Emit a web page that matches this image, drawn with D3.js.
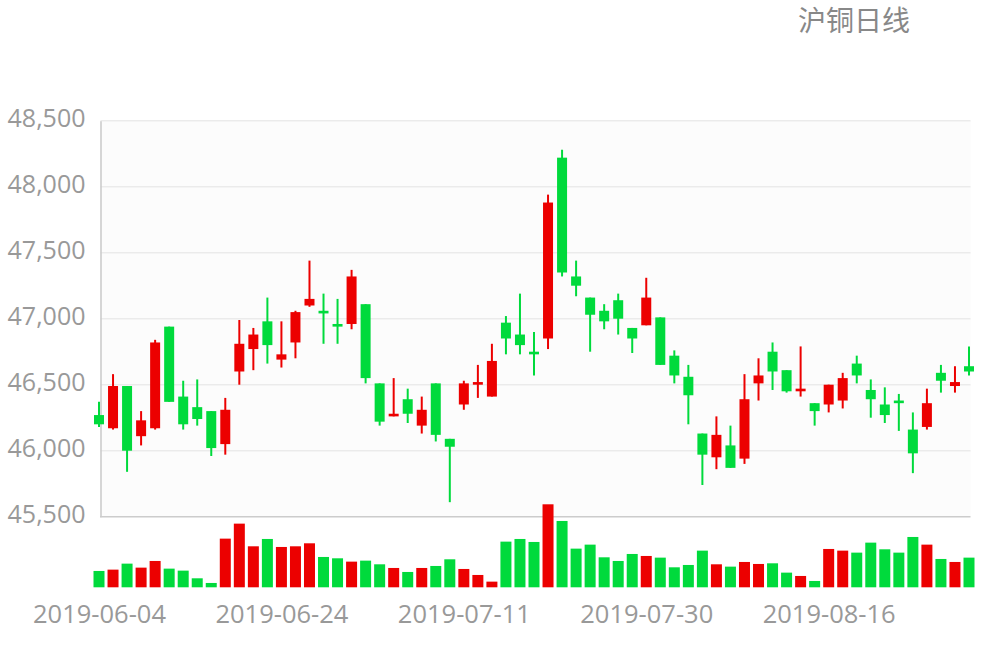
<!DOCTYPE html>
<html>
<head>
<meta charset="utf-8">
<script src="https://cdn.jsdelivr.net/npm/d3@7/dist/d3.min.js"></script>
<style>
  html, body { margin: 0; padding: 0; background: #ffffff; }
  svg { display: block; }
</style>
</head>
<body>
<svg id="chart" width="1000" height="660"></svg>
<script>
const title = "沪铜日线";

const dates = [
  "2019-06-04","2019-06-05","2019-06-06","2019-06-10","2019-06-11","2019-06-12","2019-06-13","2019-06-14",
  "2019-06-17","2019-06-18","2019-06-19","2019-06-20","2019-06-21","2019-06-24","2019-06-25","2019-06-26",
  "2019-06-27","2019-06-28","2019-07-01","2019-07-02","2019-07-03","2019-07-04","2019-07-05","2019-07-08",
  "2019-07-09","2019-07-10","2019-07-11","2019-07-12","2019-07-15","2019-07-16","2019-07-17","2019-07-18",
  "2019-07-19","2019-07-22","2019-07-23","2019-07-24","2019-07-25","2019-07-26","2019-07-29","2019-07-30",
  "2019-07-31","2019-08-01","2019-08-02","2019-08-05","2019-08-06","2019-08-07","2019-08-08","2019-08-09",
  "2019-08-12","2019-08-13","2019-08-14","2019-08-15","2019-08-16","2019-08-19","2019-08-20","2019-08-21",
  "2019-08-22","2019-08-23","2019-08-26","2019-08-27","2019-08-28","2019-08-29","2019-08-30"
];

const openPrices = [
  46270,46170,46490,46110,46170,46940,46410,46330,46300,46050,46600,46770,46980,46690,46820,47100,
  47060,46960,46960,47110,46510,46260,46390,46190,46510,46090,46350,46500,46410,46970,46880,46750,
  46850,48220,47320,47160,47060,47140,46930,46950,47010,46720,46560,46130,45950,46040,45940,46510,
  46750,46610,46450,46360,46350,46380,46660,46460,46350,46380,46160,46180,46590,46490,46640
];
const closePrices = [
  46200,46490,46000,46230,46820,46370,46200,46240,46020,46310,46810,46880,46800,46730,47050,47150,
  47040,46940,47320,46550,46220,46280,46280,46310,46120,46030,46510,46520,46680,46850,46800,46730,
  47880,47350,47250,47030,46980,47000,46850,47160,46650,46570,46420,45970,46120,45870,46390,46570,
  46600,46450,46470,46300,46500,46550,46570,46390,46270,46360,45980,46360,46530,46520,46600
];
const lowPrices = [
  46180,46160,45840,46040,46160,46370,46160,46190,45960,45970,46500,46610,46660,46630,46700,47090,
  46810,46810,46920,46510,46190,46260,46210,46130,46070,45610,46310,46400,46410,46730,46730,46570,
  46770,47320,47170,46750,46920,46880,46740,46950,46650,46510,46200,45740,45860,45870,45900,46380,
  46460,46440,46410,46190,46290,46320,46510,46250,46210,46150,45830,46160,46440,46440,46570
];
const highPrices = [
  46370,46580,46490,46300,46840,46940,46530,46540,46300,46400,46990,46930,47160,46980,47060,47440,
  47190,47150,47370,47110,46510,46550,46470,46410,46510,46090,46530,46650,46810,47020,47190,46900,
  47940,48280,47440,47160,47110,47190,46930,47310,47010,46760,46650,46130,46260,46190,46580,46700,
  46820,46610,46790,46360,46500,46590,46720,46540,46480,46430,46290,46470,46650,46640,46790
];
const volumes = [
  49000,53000,71000,59000,79000,56000,50000,27000,13000,146000,191000,123000,145000,121000,123000,132000,
  91000,87000,77000,80000,69000,58000,46000,58000,64000,84000,55000,37000,17000,137000,145000,136000,
  249000,199000,116000,128000,90000,79000,100000,94000,89000,60000,67000,110000,69000,62000,76000,70000,
  72000,44000,34000,19000,115000,110000,104000,134000,114000,104000,151000,128000,85000,76000,89000
];

const priceTicks = [45500, 46000, 46500, 47000, 47500, 48000, 48500];
const dateTicks = ["2019-06-04", "2019-06-24", "2019-07-11", "2019-07-30", "2019-08-16"];

const upColor = "#ec0000";
const downColor = "#00da3c";

const svg = d3.select("#chart");

const plotLeft = 100.5, plotRight = 970.5, plotTop = 120.7, plotBottom = 516.7;

const x = d3.scalePoint().domain(dates).range([99, 969]);
const y = d3.scaleLinear().domain([45500, 48500]).range([plotBottom, plotTop]);
const yVol = d3.scaleLinear().domain([0, 249000]).range([587.3, 504.3]);

// title
svg.append("text")
  .attr("x", 854).attr("y", 31)
  .attr("text-anchor", "middle")
  .attr("font-family", "'Noto Sans CJK SC', sans-serif")
  .attr("font-size", 28)
  .attr("fill", "#888888")
  .text(title);

// plot background
svg.append("rect")
  .attr("x", plotLeft).attr("y", plotTop)
  .attr("width", plotRight - plotLeft).attr("height", plotBottom - plotTop)
  .attr("fill", "#fcfcfc");

// grid lines
svg.append("g").selectAll("line")
  .data(priceTicks.slice(1))
  .join("line")
  .attr("x1", plotLeft).attr("x2", plotRight)
  .attr("y1", d => y(d)).attr("y2", d => y(d))
  .attr("stroke", "#ebebeb").attr("stroke-width", 1.4);

// y axis via d3 axis
const yAxis = d3.axisLeft(y).tickValues(priceTicks).tickFormat(d3.format(",")).tickSize(0).tickPadding(15);
const gy = svg.append("g").attr("transform", `translate(${plotLeft},0)`).call(yAxis);
gy.select(".domain").attr("stroke", "#cccccc").attr("stroke-width", 1.6);
gy.selectAll("text")
  .attr("font-family", "'Open Sans', sans-serif")
  .attr("font-size", 25)
  .attr("fill", "#999999")
  .attr("dy", "0.24em");

// bottom axis line
svg.append("line")
  .attr("x1", plotLeft - 0.5).attr("x2", plotRight)
  .attr("y1", plotBottom).attr("y2", plotBottom)
  .attr("stroke", "#cccccc").attr("stroke-width", 1.6);

const data = dates.map((d, i) => ({
  date: d, open: openPrices[i], close: closePrices[i],
  low: lowPrices[i], high: highPrices[i], vol: volumes[i]
}));
const colorOf = d => d.close >= d.open ? upColor : downColor;

// volume bars
svg.append("g").selectAll("rect")
  .data(data)
  .join("rect")
  .attr("x", d => x(d.date) - 5.5)
  .attr("width", 11)
  .attr("y", d => yVol(d.vol))
  .attr("height", d => yVol(0) - yVol(d.vol))
  .attr("fill", colorOf);

// candles
const candles = svg.append("g").selectAll("g")
  .data(data)
  .join("g");
candles.append("line")
  .attr("x1", d => x(d.date)).attr("x2", d => x(d.date))
  .attr("y1", d => y(d.high)).attr("y2", d => y(d.low))
  .attr("stroke", colorOf).attr("stroke-width", 2);
candles.append("rect")
  .attr("x", d => x(d.date) - 5)
  .attr("width", 10)
  .attr("y", d => y(Math.max(d.open, d.close)))
  .attr("height", d => Math.max(2, Math.abs(y(d.open) - y(d.close))))
  .attr("fill", colorOf);

// x axis labels
const xAxis = d3.axisBottom(x).tickValues(dateTicks).tickSize(0).tickPadding(0);
const gx = svg.append("g").attr("transform", "translate(0,600)").call(xAxis);
gx.select(".domain").remove();
gx.selectAll("text")
  .attr("font-family", "'Open Sans', sans-serif")
  .attr("font-size", 25.5)
  .attr("fill", "#999999")
  .attr("dy", "0.9em");
</script>
</body>
</html>
